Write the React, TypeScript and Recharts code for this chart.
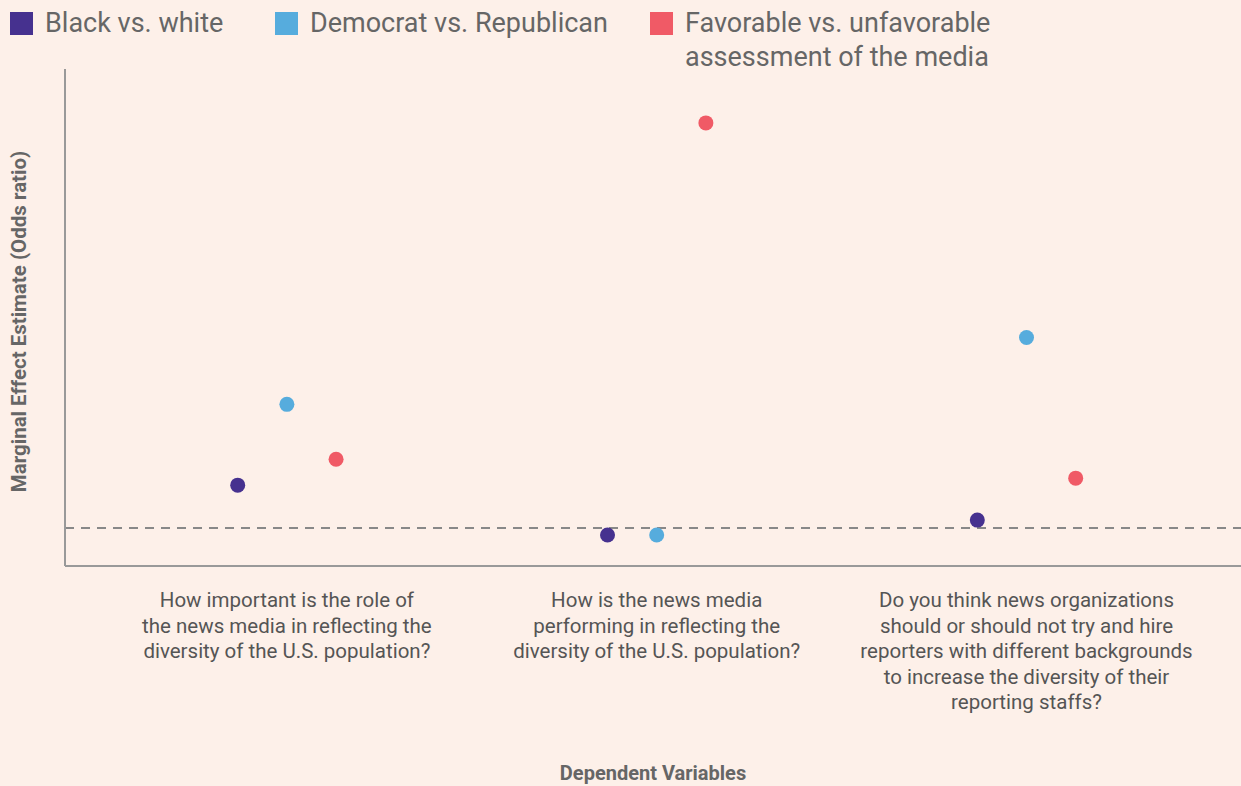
import React from 'react';
import { ScatterChart, Scatter, XAxis, YAxis, ReferenceLine, Label } from 'recharts';

const BG = '#fdf0e9';
const TEXT = '#666666';
const FONT = 'Roboto, "Noto Sans", sans-serif';

const SERIES_NAMES = ['Black vs. white', 'Democrat vs. Republican', 'Favorable vs. unfavorable assessment of the media'];
const COLORS = ['#46318f', '#56acdd', '#f05a66'];

const questions = [
  ['How important is the role of', 'the news media in reflecting the', 'diversity of the U.S. population?'],
  ['How is the news media', 'performing in reflecting the', 'diversity of the U.S. population?'],
  ['Do you think news organizations', 'should or should not try and hire', 'reporters with different backgrounds', 'to increase the diversity of their', 'reporting staffs?'],
];

const blackVsWhite = [1.43, 0.93, 1.08];
const demVsRep = [2.24, 0.93, 2.91];
const favVsUnfav = [1.69, 5.06, 1.5];

const allSeries = [blackVsWhite, demVsRep, favVsUnfav];
const OFFSETS = [-0.133, 0, 0.133];

const seriesData = allSeries.map((vals, s) =>
  vals.map((v, i) => ({ x: i + 1 + OFFSETS[s], y: v }))
);

const QuestionTick = ({ x, y, payload }: any) => {
  const lines = questions[Math.round(payload.value) - 1] || [];
  return (
    <text x={x} y={y} textAnchor="middle" fill="#555" fontSize={20.5} fontFamily={FONT}>
      {lines.map((l, i) => (
        <tspan key={i} x={x} dy={i === 0 ? 33 : 25.5}>{l}</tspan>
      ))}
    </text>
  );
};

const Dot = (props: any) => {
  const { cx, cy, fill } = props;
  return <circle cx={cx} cy={cy} r={7.5} fill={fill} />;
};

const LegendItem = ({ color, label, left }: { color: string; label: string[]; left: number }) => (
  <div style={{ position: 'absolute', left, top: 12, display: 'flex', alignItems: 'flex-start' }}>
    <div style={{ width: 23, height: 23, background: color }} />
    <div style={{ marginLeft: 12, marginTop: -6, fontSize: 27, lineHeight: '34px', color: TEXT, fontFamily: FONT }}>
      {label.map((l, i) => <div key={i}>{l}</div>)}
    </div>
  </div>
);

export default function App() {
  return (
    <div style={{ position: 'absolute', left: 0, top: 0, width: 1241, height: 786, background: BG, overflow: 'hidden' }}>
      <LegendItem color={COLORS[0]} label={[SERIES_NAMES[0]]} left={10} />
      <LegendItem color={COLORS[1]} label={[SERIES_NAMES[1]]} left={275} />
      <LegendItem color={COLORS[2]} label={['Favorable vs. unfavorable', 'assessment of the media']} left={650} />
      <div style={{ position: 'absolute', left: 0, top: 0 }}>
        <ScatterChart width={1241} height={786} margin={{ top: 69, right: 0, bottom: 0, left: 0 }}>
          <XAxis
            type="number"
            dataKey="x"
            domain={[0.4, 3.58]}
            ticks={[1, 2, 3]}
            allowDataOverflow
            height={220}
            tickLine={false}
            axisLine={{ stroke: '#999', strokeWidth: 2 }}
            tick={<QuestionTick />}
          >
            <Label
              value="Dependent Variables"
              position="insideBottom"
              offset={6}
              style={{ fontSize: 20, fontWeight: 700, fill: TEXT, fontFamily: FONT }}
            />
          </XAxis>
          <YAxis
            type="number"
            dataKey="y"
            domain={[0.62, 5.6]}
            allowDataOverflow
            width={65}
            tick={false}
            tickLine={false}
            axisLine={{ stroke: '#999', strokeWidth: 2 }}
          >
            <Label
              value="Marginal Effect Estimate (Odds ratio)"
              angle={-90}
              position="insideLeft"
              offset={19}
              dy={4}
              style={{ textAnchor: 'middle', fontSize: 20.5, fontWeight: 700, fill: TEXT, fontFamily: FONT }}
            />
          </YAxis>
          <ReferenceLine y={1} stroke="#888" strokeWidth={2} strokeDasharray="9 7" />
          {seriesData.map((d, s) => (
            <Scatter
              key={s}
              name={SERIES_NAMES[s]}
              data={d}
              fill={COLORS[s]}
              shape={<Dot />}
              isAnimationActive={false}
            />
          ))}
        </ScatterChart>
      </div>
    </div>
  );
}
